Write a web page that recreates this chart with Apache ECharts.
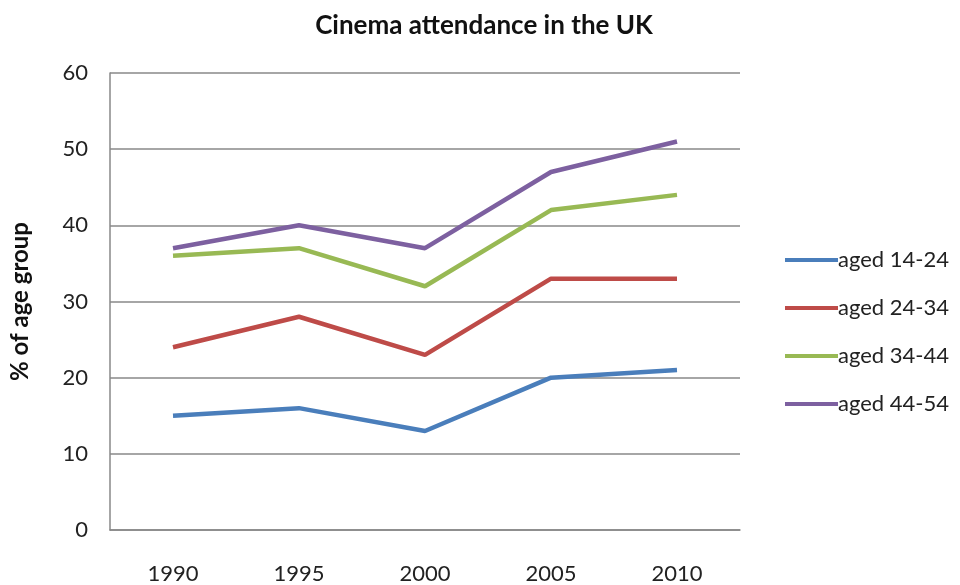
<!DOCTYPE html>
<html><head><meta charset="utf-8">
<script src="https://cdn.jsdelivr.net/npm/echarts@6/dist/echarts.min.js"></script>
<style>html,body{margin:0;padding:0;background:#fff}#c{width:960px;height:585px}</style>
</head><body><div id="c"></div>
<script>
const years = ['1990','1995','2000','2005','2010'];
const aged14_24 = [15,16,13,20,21];
const aged24_34 = [24,28,23,33,33];
const aged34_44 = [36,37,32,42,44];
const aged44_54 = [37,40,37,47,51];
const names = ['aged 14-24','aged 24-34','aged 34-44','aged 44-54'];
const colors = ['#4a7ebb','#be4b48','#98b954','#7d60a0'];
const font = 'Lato, "Open Sans", sans-serif';
const chart = echarts.init(document.getElementById('c'));
const mk = (n,d,c)=>({name:n,type:'line',data:d,symbol:'none',lineStyle:{width:4.5,color:c},itemStyle:{color:c}});
chart.setOption({
  animation:false,
  title:{text:'Cinema attendance in the UK',left:479,textAlign:'center',top:8,textStyle:{fontFamily:font,fontSize:26,fontWeight:'bold',color:'#111'}},
  grid:{left:107,right:220,top:73,bottom:55},
  legend:{orient:'vertical',left:780,top:244,itemGap:26,itemWidth:53,itemHeight:4,icon:'rect',data:names,
    textStyle:{fontFamily:font,fontSize:22,lineHeight:22,color:'#222',padding:[0,0,0,-5]}},
  xAxis:{type:'category',data:years,boundaryGap:true,
    axisLine:{show:true,lineStyle:{color:'#888',width:1.5}},axisTick:{show:false},
    axisLabel:{fontFamily:font,fontSize:22,color:'#222',margin:33}},
  yAxis:{type:'value',min:0,max:60,interval:10,
    name:'% of age group',nameLocation:'middle',nameGap:78,nameRotate:90,
    nameTextStyle:{fontFamily:font,fontSize:24,fontWeight:'bold',color:'#111'},
    axisLine:{show:true,lineStyle:{color:'#888',width:1.5}},axisTick:{show:false},
    axisLabel:{fontFamily:font,fontSize:22,color:'#222',margin:22},
    splitLine:{lineStyle:{color:'#888',width:1.5}}},
  series:[mk(names[0],aged14_24,colors[0]),mk(names[1],aged24_34,colors[1]),mk(names[2],aged34_44,colors[2]),mk(names[3],aged44_54,colors[3])]
});
</script></body></html>
